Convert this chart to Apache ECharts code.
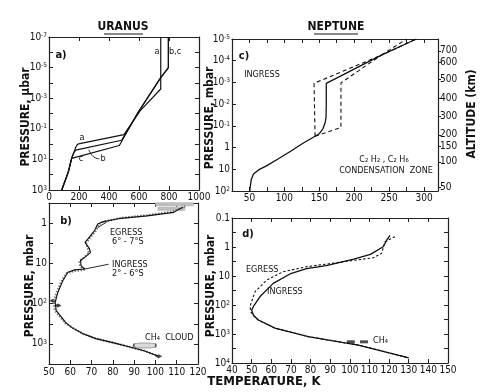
<!DOCTYPE html>
<html><head><meta charset="utf-8">
<script src="https://cdn.jsdelivr.net/npm/echarts@6/dist/echarts.min.js"></script>
<style>html,body{margin:0;padding:0;background:#fff}#c{width:490px;height:392px}</style>
</head><body><div id="c"></div>
<script>
const FONT = "'Liberation Sans Narrow','DejaVu Sans Condensed','Liberation Sans','DejaVu Sans',sans-serif";

// ---------- Panel a: Uranus, T (K) vs pressure (μbar) ----------
const aCurveA = [[85,1000],[129,65],[151,8.5],[168,3.2],[178,1.6],[190,1.05],[205,0.92],[500,0.24],[607,0.0068],[745,2.5e-4],[745,1e-7]];
const aCurveB = [[85,1000],[129,65],[151,8.5],[165,3.6],[178,2.5],[484,0.56],[600,0.007],[745,4.5e-5],[796,1e-5],[796,1e-7]];
const aCurveC = [[85,1000],[129,65],[151,8.5],[160,7.0],[469,1.23],[595,0.008],[745,4.5e-5],[796,1e-5],[796,1e-7]];
const aLeaderB = [[335,9.3],[295,6.5],[265,2.3]];
const aXTicks = [0,200,400,600,800,1000];
const aYExp = [-7,-5,-3,-1,1,3];
const aYLab = ['10^-7','10^-5','10^-3','10^-1','10^1','10^3'];

// ---------- Panel c: Neptune ingress, T (K) vs pressure (mbar) ----------
const cSolid = [[50.5,100],[51,69],[52.5,30],[55.8,16.6],[63,10.7],[75,6.8],[92,3.2],[109,1.48],[126,0.65],[144,0.30],[150,0.23],[155,0.14],[158.5,0.07],[159.7,0.04],[160,0.01],[160,0.0011],[239,5.5e-5],[289,1e-5]];
const cDashLeft = [[144,0.30],[142.5,0.33],[142.5,0.0011],[239,5.5e-5],[275,1e-5]];
const cDashRight = [[144,0.30],[181,0.12],[181,0.00105],[239,5.5e-5],[289,1e-5]];
const cYExp = [-5,-4,-3,-2,-1,0,1,2];
const cYLab = ['10^-5','10^-4','10^-3','10^-2','10^-1','1','10','10^2'];
const cAltKm = [700,600,500,400,300,200,150,100,50];
const cAltP = [3.5e-5,1.23e-4,7.2e-4,5.6e-3,0.038,0.26,0.85,4.5,65];

// ---------- Panel b: Uranus occultation profiles, T (K) vs pressure (mbar) ----------
const bEgress = [[113,0.40],[108.6,0.54],[96,0.66],[83.7,0.76],[75.2,0.93],[72.9,1.05],[71.3,1.55],[68.2,2.5],[66.9,3.0],[69,4.3],[69.5,5.4],[66.7,7.1],[64.8,8.5],[65.1,11.5],[66.7,13.8],[62,14.5],[58.9,16.6],[56.5,27],[54.2,52],[52.9,93],[53.4,150],[55,190],[58,300],[61,400],[66,560],[72,740],[80,930],[88,1200],[95,1500],[101.5,2040]];
const bIngress = [[114,0.38],[108,0.52],[96,0.64],[84,0.74],[75.5,0.92],[73.2,1.1],[71.8,1.6],[69,2.4],[67.5,3.1],[68.3,4.4],[68.8,5.6],[66.2,7.4],[64.3,8.8],[64.6,11.8],[67.2,14.3],[61.5,15.5],[58.3,17.5],[55.8,28],[53.7,52],[52.2,90],[52.8,150],[54.5,190],[57.6,300],[61,400],[66,560],[72,740],[80,930],[88,1200],[95,1500],[101.5,2040]];
const bTopBand1 = [[100,0.34],[118,0.34]];
const bTopBand2 = [[101,0.44],[114,0.44]];
const bMarks = [[51.9,85],[54.2,112],[101.5,2040],[108,0.34],[112,0.44]];
const bCloud = [[95,1100]];
const bLeaderE = [[77,0.95],[72.8,1.3]];
const bLeaderI = [[78,10.5],[66.8,13.8]];
const bYExp = [0,1,2,3];
const bYLab = ['1','10','10^2','10^3'];

// ---------- Panel d: Neptune, T (K) vs pressure (mbar) ----------
const dIngress = [[120.5,0.4],[118.8,0.58],[117,0.98],[110.5,1.8],[102,2.6],[88,4.4],[78,5.6],[69.5,8.5],[61,18],[54.3,51],[51,110],[50,150],[51,230],[53.4,330],[61.9,630],[78.8,1230],[104.3,2400],[130,6600]];
const dEgress = [[123,0.44],[117.9,0.66],[116.2,1.66],[112,2.35],[103.5,2.8],[91.6,3.6],[78,4.8],[66.1,7.1],[57.7,13.8],[51.7,35],[49.2,110],[49.5,170],[51.5,250],[53.4,330],[61.9,630],[78.8,1230],[104.3,2400],[130,6600]];
const dCH4 = [[100.5,1860],[107.2,1860]];
const dYExp = [-1,0,1,2,3,4];
const dYLab = ['0.1','1','10','10^2','10^3','10^4'];

// ---------- build ----------
const lg = arr => arr.map(p => [p[0], Math.log10(p[1])]);
const toRich = s => { const k = s.indexOf('^'); return k < 0 ? '{b|' + s + '}' : '{b|' + s.slice(0, k) + '}{s|' + s.slice(k + 1) + '}'; };
function expFmt(exps, labs){
  return v => { const r = Math.round(v); if (Math.abs(r - v) > 1e-6) return ''; const i = exps.indexOf(r); return i < 0 ? '' : toRich(labs[i]); };
}
const RICH = {
  b: {fontFamily: FONT, fontSize: 10, color: '#111', lineHeight: 11},
  s: {fontFamily: FONT, fontSize: 6.5, color: '#111', verticalAlign: 'top', lineHeight: 11}
};
const tickStyle = {fontFamily: FONT, fontSize: 10, color: '#111'};
const axLine = {show: true, onZero: false, lineStyle: {color: '#222', width: 1.2}};
const tick = {inside:true, length:4, lineStyle:{color:'#222'}};

function xPair(g, min, max, interval, fmt, margin){
  return [
    {type:'value', gridIndex:g, position:'bottom', min, max, interval, axisLine:axLine, axisTick:tick, splitLine:{show:false},
     axisLabel:Object.assign({margin:margin, formatter:fmt, showMinLabel:true, showMaxLabel:true}, tickStyle)},
    {type:'value', gridIndex:g, position:'top', min, max, interval, axisLine:axLine, axisTick:tick, splitLine:{show:false}, axisLabel:{show:false}}
  ];
}
function yLeft(g, min, max, interval, fmt){
  return {type:'value', gridIndex:g, position:'left', inverse:true, min, max, interval, axisLine:axLine, axisTick:tick, splitLine:{show:false},
    axisLabel:Object.assign({margin:2, formatter:fmt, showMinLabel:true, showMaxLabel:true, rich: RICH}, tickStyle)};
}
function yRight(g, min, max, interval){
  return {type:'value', gridIndex:g, position:'right', inverse:true, min, max, interval, axisLine:axLine, axisTick:tick, splitLine:{show:false}, axisLabel:{show:false}};
}

const altLog = cAltP.map(p => Math.log10(p));
const xAxes = [].concat(
  xPair(0, 0, 1000, 200, v => (aXTicks.indexOf(v) >= 0 ? String(v) : ''), 2),
  xPair(1, 25, 320, 25, v => (v % 50 === 0 ? String(v) : ''), 2),
  xPair(2, 50, 120, 10, v => String(v), 3),
  xPair(3, 40, 150, 10, v => String(v), 2)
);
const yAxes = [
  yLeft(0, -7, 3, 1, expFmt(aYExp, aYLab)), yRight(0, -7, 3, 1),
  yLeft(1, -5, 2, 1, expFmt(cYExp, cYLab)),
  {type:'value', gridIndex:1, position:'right', inverse:true, min:-5, max:2, axisLine:axLine,
   axisTick:{inside:false, length:3, customValues: altLog, lineStyle:{color:'#222'}}, splitLine:{show:false},
   axisLabel:Object.assign({margin:2, customValues: altLog, formatter: v => {
     let bi = 0, bd = 1e9; altLog.forEach((a,i) => { const d = Math.abs(a - v); if (d < bd) { bd = d; bi = i; } });
     return String(cAltKm[bi]); }}, tickStyle)},
  yLeft(2, -0.5, 3.5, 0.5, expFmt(bYExp, bYLab)), yRight(2, -0.5, 3.5, 0.5),
  yLeft(3, -1, 4, 0.5, expFmt(dYExp, dYLab)), yRight(3, -1, 4, 0.5)
];

function line(data, xi, lineStyle, extra){
  return Object.assign({type:'line', xAxisIndex:xi, yAxisIndex:xi, data: lg(data), showSymbol:false, symbol:'none',
    silent:true, animation:false, lineStyle: Object.assign({color:'#111', width:1.2}, lineStyle)}, extra || {});
}

const series = [
  line(aCurveA, 0, {}), line(aCurveB, 0, {}), line(aCurveC, 0, {}),
  line(aLeaderB, 0, {width:0.9}, {smooth:true}),
  line(cSolid, 2, {width:1.3}),
  line(cDashLeft, 2, {type:[4,3], width:1.1}),
  line(cDashRight, 2, {type:[4,3], width:1.1}),
  line(bTopBand1, 4, {color:'#bdbdbd', width:4}),
  line(bTopBand2, 4, {color:'#bdbdbd', width:4}),
  line(bIngress, 4, {color:'#777', width:2.2, type:[1.5,1.5]}),
  line(bEgress, 4, {width:1.1}),
  line(bLeaderE, 4, {width:0.9}),
  line(bLeaderI, 4, {width:0.9}),
  {type:'scatter', xAxisIndex:4, yAxisIndex:4, data: lg(bMarks), symbol:'diamond', symbolSize:[7,4], silent:true, animation:false, itemStyle:{color:'#111'}},
  {type:'scatter', xAxisIndex:4, yAxisIndex:4, data: lg(bCloud), symbol:'roundRect', symbolSize:[22,5], silent:true, animation:false, itemStyle:{color:'#cfcfcf', borderColor:'#333', borderWidth:0.8}},
  line(dEgress, 6, {type:[2.5,2], width:1.1}),
  line(dIngress, 6, {width:1.3}),
  {type:'scatter', xAxisIndex:6, yAxisIndex:6, data: lg(dCH4), symbol:'rect', symbolSize:[8,3], silent:true, animation:false, itemStyle:{color:'#222'}}
];

function txt(x, y, s, size, opts){
  return {type:'text', x, y, silent:true, rotation:(opts && opts.rot) || 0,
    style: {text:s, fontFamily:FONT, fontSize:size, fontWeight:(opts && opts.bold) ? 'bold' : 'normal', fill:'#111',
      textAlign:(opts && opts.align) || 'center', textVerticalAlign:'middle'}};
}
const R = Math.PI/2;
const graphic = [
  txt(123, 27, 'URANUS', 12, {bold:true}),
  {type:'line', silent:true, shape:{x1:104, y1:34, x2:143, y2:34}, style:{stroke:'#111', lineWidth:1}},
  txt(336, 27, 'NEPTUNE', 12, {bold:true}),
  {type:'line', silent:true, shape:{x1:314, y1:34, x2:358, y2:34}, style:{stroke:'#111', lineWidth:1}},
  txt(26, 117, 'PRESSURE, \u03BCbar', 12, {bold:true, rot:R}),
  txt(210, 118, 'PRESSURE, mbar', 12, {bold:true, rot:R}),
  txt(30, 286, 'PRESSURE, mbar', 12, {bold:true, rot:R}),
  txt(211, 286, 'PRESSURE, mbar', 12, {bold:true, rot:R}),
  txt(472, 114, 'ALTITUDE (km)', 12, {bold:true, rot:R}),
  txt(264, 382, 'TEMPERATURE, K', 13, {bold:true}),
  txt(61, 55, 'a)', 11, {bold:true}),
  txt(157, 52, 'a', 9), txt(175, 52, 'b,c', 9),
  txt(82, 138, 'a', 9), txt(81, 159, 'c', 9), txt(103, 159, 'b', 9),
  txt(244, 56, 'c)', 11, {bold:true}),
  txt(262, 75, 'INGRESS', 9),
  txt(384, 160, 'C\u2082 H\u2082 , C\u2082 H\u2086', 9),
  txt(386, 171, 'CONDENSATION  ZONE', 9),
  txt(66, 221, 'b)', 11, {bold:true}),
  txt(110, 233, 'EGRESS', 9, {align:'left'}),
  txt(112, 242, '6\u00B0 - 7\u00B0S', 9, {align:'left'}),
  txt(112, 265, 'INGRESS', 9, {align:'left'}),
  txt(112, 274, '2\u00B0 - 6\u00B0S', 9, {align:'left'}),
  txt(145, 338, 'CH\u2084  CLOUD', 9, {align:'left'}),
  txt(248, 234, 'd)', 11, {bold:true}),
  txt(246, 270, 'EGRESS', 9, {align:'left'}),
  txt(267, 292, 'INGRESS', 9, {align:'left'}),
  txt(373, 341, 'CH\u2084', 9, {align:'left'})
];

const chart = echarts.init(document.getElementById('c'), null, {renderer:'canvas'});
chart.setOption({
  animation:false,
  backgroundColor:'#fff',
  grid: [
    {left:49, top:37, width:150, height:153},
    {left:232, top:39, width:206, height:152},
    {left:49, top:203, width:149, height:161},
    {left:232, top:218, width:216, height:145}
  ],
  xAxis: xAxes,
  yAxis: yAxes,
  series: series,
  graphic: graphic
});
</script></body></html>
